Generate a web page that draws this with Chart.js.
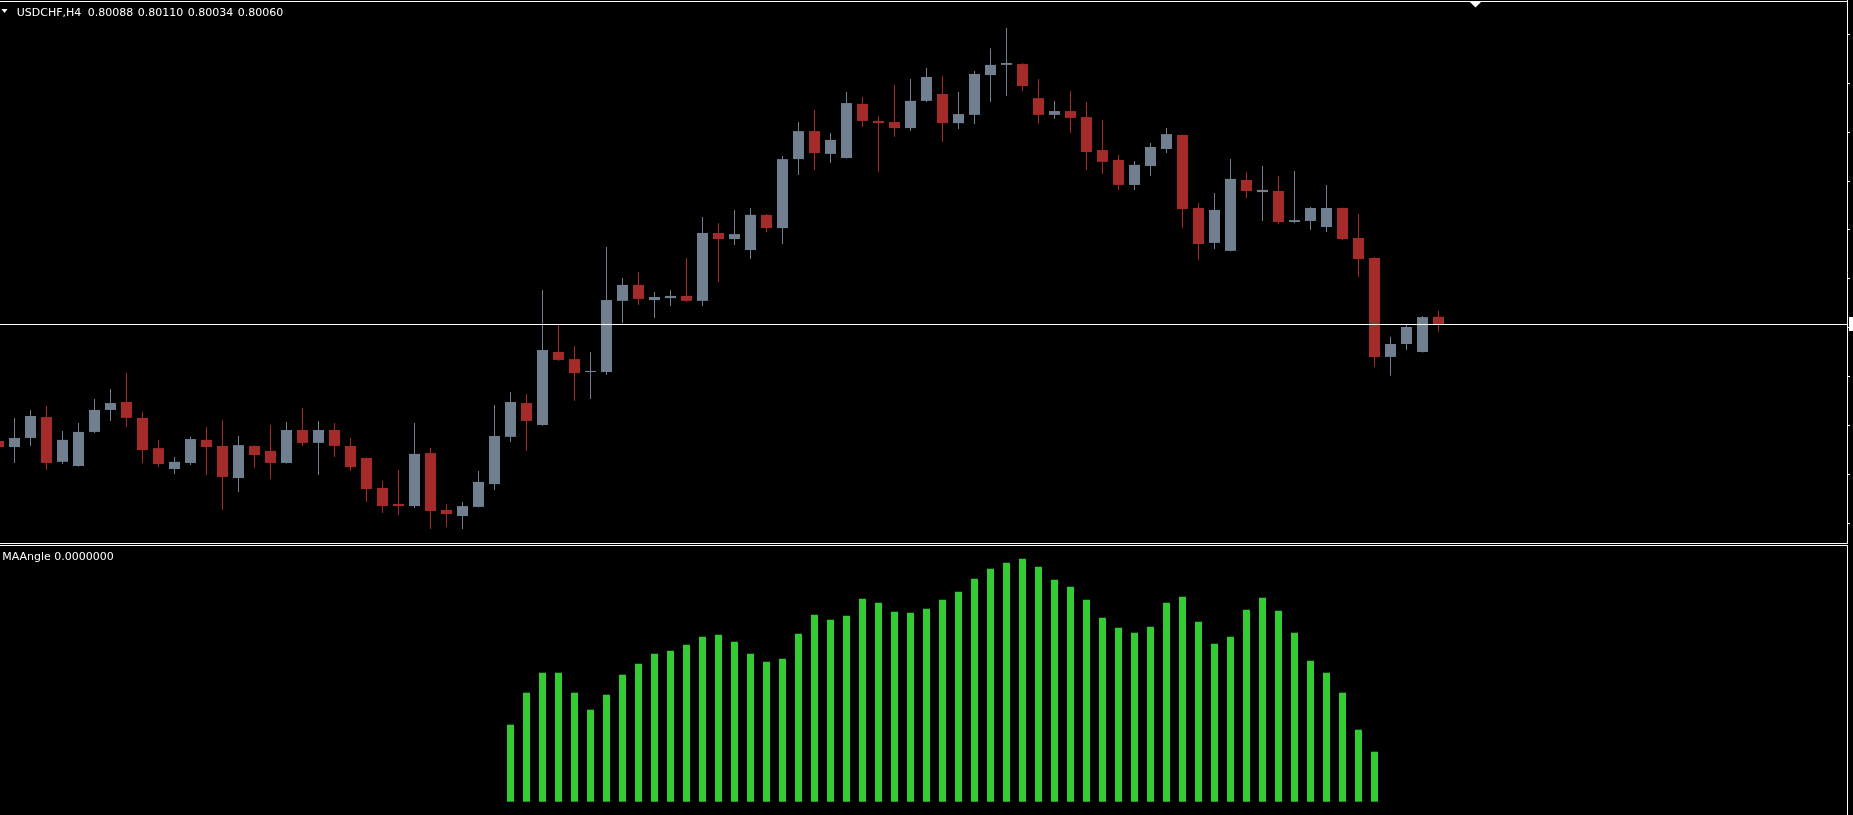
<!DOCTYPE html>
<html>
<head>
<meta charset="utf-8">
<title>USDCHF,H4</title>
<script src="https://cdn.jsdelivr.net/npm/chart.js@4.4.1/dist/chart.umd.min.js"></script>
<style>
  html, body { margin: 0; padding: 0; background: #000; overflow: hidden; }
  #main { position: absolute; left: 0; top: 0; }
  #sub { position: absolute; left: 0; top: 545px; }
</style>
</head>
<body>
<canvas id="main" width="1853" height="544"></canvas>
<canvas id="sub" width="1853" height="270"></canvas>
<script>
// symbol and indicator names
const symbolLabel = 'USDCHF,H4';
const indicatorName = 'MAAngle';

// first visible bar index (bar 0 = first full candle on the left)
const firstBar = -1;

// OHLC, one entry per H4 bar
const opens = [0.79636, 0.79614, 0.79647, 0.79723, 0.79560, 0.79545, 0.79669, 0.79749, 0.79778, 0.79720,
  0.79610, 0.79534, 0.79556, 0.79640, 0.79618, 0.79501, 0.79618, 0.79600, 0.79556, 0.79676,
  0.79629, 0.79676, 0.79618, 0.79574, 0.79465, 0.79407, 0.79399, 0.79592, 0.79385, 0.79363,
  0.79396, 0.79479, 0.79651, 0.79774, 0.79694, 0.79960, 0.79934, 0.79887, 0.79887, 0.80146,
  0.80204, 0.80149, 0.80156, 0.80164, 0.80146, 0.80393, 0.80371, 0.80331, 0.80459, 0.80411,
  0.80662, 0.80764, 0.80681, 0.80666, 0.80863, 0.80801, 0.80797, 0.80775, 0.80874, 0.80899,
  0.80793, 0.80823, 0.80968, 0.81005, 0.81008, 0.80884, 0.80823, 0.80837, 0.80815, 0.80695,
  0.80659, 0.80568, 0.80637, 0.80699, 0.80750, 0.80484, 0.80357, 0.80328, 0.80586, 0.80542,
  0.80546, 0.80433, 0.80437, 0.80415, 0.80484, 0.80375, 0.80302, 0.79942, 0.79989, 0.79960,
  0.80088];
const highs = [0.79647, 0.79720, 0.79749, 0.79763, 0.79672, 0.79701, 0.79789, 0.79825, 0.79883, 0.79742,
  0.79640, 0.79578, 0.79651, 0.79687, 0.79712, 0.79654, 0.79620, 0.79694, 0.79705, 0.79756,
  0.79709, 0.79701, 0.79647, 0.79576, 0.79490, 0.79530, 0.79701, 0.79610, 0.79407, 0.79414,
  0.79527, 0.79767, 0.79814, 0.79807, 0.80186, 0.80058, 0.79982, 0.79960, 0.80342, 0.80229,
  0.80251, 0.80178, 0.80186, 0.80302, 0.80451, 0.80429, 0.80477, 0.80484, 0.80462, 0.80673,
  0.80797, 0.80841, 0.80757, 0.80906, 0.80888, 0.80819, 0.80932, 0.80954, 0.80994, 0.80965,
  0.80906, 0.80983, 0.81066, 0.81139, 0.81012, 0.80954, 0.80874, 0.80910, 0.80870, 0.80804,
  0.80677, 0.80655, 0.80721, 0.80775, 0.80752, 0.80502, 0.80539, 0.80662, 0.80615, 0.80637,
  0.80601, 0.80619, 0.80488, 0.80568, 0.80486, 0.80462, 0.80306, 0.80015, 0.80062, 0.80091,
  0.80110];
const lows = [0.79603, 0.79556, 0.79618, 0.79530, 0.79552, 0.79543, 0.79665, 0.79709, 0.79687, 0.79556,
  0.79541, 0.79516, 0.79549, 0.79512, 0.79385, 0.79450, 0.79538, 0.79498, 0.79554, 0.79618,
  0.79512, 0.79578, 0.79527, 0.79414, 0.79374, 0.79367, 0.79392, 0.79316, 0.79323, 0.79316,
  0.79394, 0.79458, 0.79632, 0.79600, 0.79691, 0.79927, 0.79782, 0.79789, 0.79876, 0.80065,
  0.80131, 0.80084, 0.80127, 0.80142, 0.80127, 0.80215, 0.80349, 0.80298, 0.80397, 0.80353,
  0.80604, 0.80622, 0.80648, 0.80664, 0.80779, 0.80615, 0.80743, 0.80764, 0.80870, 0.80724,
  0.80772, 0.80790, 0.80870, 0.80892, 0.80910, 0.80793, 0.80808, 0.80757, 0.80622, 0.80608,
  0.80550, 0.80550, 0.80601, 0.80684, 0.80411, 0.80295, 0.80335, 0.80326, 0.80520, 0.80437,
  0.80426, 0.80429, 0.80404, 0.80397, 0.80368, 0.80233, 0.79905, 0.79873, 0.79967, 0.79958,
  0.80034];
const closes = [0.79614, 0.79647, 0.79727, 0.79556, 0.79640, 0.79669, 0.79749, 0.79774, 0.79720, 0.79603,
  0.79552, 0.79560, 0.79643, 0.79614, 0.79505, 0.79621, 0.79585, 0.79556, 0.79676, 0.79629,
  0.79676, 0.79618, 0.79541, 0.79461, 0.79399, 0.79399, 0.79589, 0.79381, 0.79370, 0.79399,
  0.79487, 0.79654, 0.79778, 0.79709, 0.79967, 0.79931, 0.79883, 0.79891, 0.80149, 0.80204,
  0.80153, 0.80160, 0.80164, 0.80146, 0.80393, 0.80371, 0.80389, 0.80459, 0.80411, 0.80662,
  0.80764, 0.80684, 0.80732, 0.80866, 0.80801, 0.80793, 0.80775, 0.80874, 0.80961, 0.80793,
  0.80826, 0.80972, 0.81005, 0.81012, 0.80928, 0.80823, 0.80837, 0.80812, 0.80688, 0.80652,
  0.80568, 0.80641, 0.80706, 0.80753, 0.80480, 0.80353, 0.80477, 0.80590, 0.80546, 0.80550,
  0.80433, 0.80440, 0.80484, 0.80484, 0.80371, 0.80298, 0.79942, 0.79989, 0.80051, 0.80087,
  0.80060];

// MAAngle histogram, same bars as above (null = not computed yet)
const maValues = [null, null, null, null, null, null, null, null, null, null,
  null, null, null, null, null, null, null, null, null, null,
  null, null, null, null, null, null, null, null, null, null,
  null, null, 15.4, 21.8, 25.8, 25.8, 21.8, 18.4, 21.4, 25.4,
  27.6, 29.6, 30.2, 31.4, 33.0, 33.4, 32.0, 29.6, 28.0, 28.6,
  33.6, 37.4, 36.4, 37.2, 40.6, 39.8, 38.0, 37.8, 38.6, 40.4,
  42.0, 44.6, 46.6, 47.8, 48.6, 47.0, 44.4, 43.0, 40.4, 36.8,
  34.8, 33.8, 35.0, 39.8, 41.0, 36.0, 31.6, 33.0, 38.4, 40.8,
  38.2, 33.8, 28.2, 25.8, 21.8, 14.4, 10.0, 0, 0, 0,
  0];

// price scale tick marks (labels are outside the picture)
const priceTicks = [0.81117, 0.80939, 0.80760, 0.80582, 0.80404, 0.80226, 0.80048, 0.79869, 0.79691, 0.79513, 0.79334];

// visible ranges
const priceMin = 0.79261;
const priceMax = 0.812412;
const maMin = -2.66;
const maMax = 51.34;
const xMin = -0.90625;
const xMax = xMin + 1847 / 16;

const bullColor = 'rgb(112,128,144)';
const bearColor = 'rgb(165,42,42)';
const maColor = 'rgb(50,205,50)';

const last = closes.length - 1;
const xs = opens.map((o, i) => firstBar + i);
const candleColors = opens.map((o, i) => closes[i] >= o ? bullColor : bearColor);
const ohlcLabels = [opens[last], highs[last], lows[last], closes[last]].map(v => v.toFixed(5));
const maLabel = indicatorName + ' ' + maValues[last].toFixed(7);

Chart.defaults.font.family = '"DejaVu Sans", sans-serif';

function rightAxis(min, max, ticks) {
    return {
        position: 'right',
        min: min,
        max: max,
        ticks: { display: false },
        grid: { drawOnChartArea: false, drawTicks: ticks.length > 0, tickLength: 3, color: '#fff' },
        border: { display: true, color: '#fff' },
        afterBuildTicks: (axis) => { axis.ticks = ticks.map(v => ({ value: v })); },
        afterFit: (axis) => { axis.width = 6; }
    };
}

const timeAxis = { type: 'linear', display: false, offset: false, min: xMin, max: xMax };

//Bordures, ligne du prix et textes du graphique principal
const mainOverlay = {
    id: 'mainOverlay',
    afterDraw(chart) {
        const ctx = chart.ctx;
        const area = chart.chartArea;
        ctx.save();
        ctx.fillStyle = '#fff';
        ctx.fillRect(0, 1, area.right + 1, 1);
        ctx.fillRect(0, 543, area.right + 1, 1);

        let py = Math.floor(chart.scales.y.getPixelForValue(closes[last]));
        ctx.fillRect(0, py, area.right, 1);
        ctx.fillRect(1849, py - 7, 4, 14);

        // chart shift marker
        ctx.beginPath();
        ctx.moveTo(1470, 2);
        ctx.lineTo(1481, 2);
        ctx.lineTo(1475.5, 7.5);
        ctx.closePath();
        ctx.fill();

        ctx.beginPath();
        ctx.moveTo(1.5, 9);
        ctx.lineTo(7.5, 9);
        ctx.lineTo(4.5, 13);
        ctx.closePath();
        ctx.fill();

        ctx.font = '11px "DejaVu Sans"';
        ctx.textBaseline = 'alphabetic';
        ctx.fillText(symbolLabel, 16.7, 16);
        for (let i = 0; i < ohlcLabels.length; i++) {
            ctx.fillText(ohlcLabels[i], 87.7 + 50 * i, 16);
        }
        ctx.restore();
    }
};

const subOverlay = {
    id: 'subOverlay',
    afterDraw(chart) {
        const ctx = chart.ctx;
        ctx.save();
        ctx.fillStyle = '#fff';
        ctx.fillRect(0, 0, chart.chartArea.right + 1, 1);
        ctx.font = '11px "DejaVu Sans"';
        ctx.fillText(maLabel, 2.2, 15);
        ctx.restore();
    }
};

new Chart(document.getElementById('main'), {
    type: 'bar',
    data: {
        datasets: [
            {
                label: 'wick',
                data: xs.map((x, i) => ({ x: x, y: [lows[i], highs[i]] })),
                backgroundColor: candleColors,
                barThickness: 1,
                grouped: false,
                inflateAmount: 0,
                order: 2
            },
            {
                label: 'body',
                data: xs.map((x, i) => ({ x: x, y: [opens[i], closes[i]] })),
                backgroundColor: candleColors,
                barThickness: 11,
                minBarLength: 1,
                grouped: false,
                inflateAmount: 0,
                order: 1
            }
        ]
    },
    options: {
        responsive: false,
        animation: false,
        devicePixelRatio: 1,
        layout: { padding: 0 },
        plugins: { legend: { display: false }, tooltip: { enabled: false } },
        scales: {
            x: timeAxis,
            y: rightAxis(priceMin, priceMax, priceTicks)
        }
    },
    plugins: [mainOverlay]
});

new Chart(document.getElementById('sub'), {
    type: 'bar',
    data: {
        datasets: [{
            label: indicatorName,
            data: xs.map((x, i) => ({ x: x, y: maValues[i] })),
            backgroundColor: maColor,
            barThickness: 7,
            grouped: false,
            inflateAmount: 0
        }]
    },
    options: {
        responsive: false,
        animation: false,
        devicePixelRatio: 1,
        layout: { padding: 0 },
        plugins: { legend: { display: false }, tooltip: { enabled: false } },
        scales: {
            x: timeAxis,
            y: rightAxis(maMin, maMax, [])
        }
    },
    plugins: [subOverlay]
});
</script>
</body>
</html>
